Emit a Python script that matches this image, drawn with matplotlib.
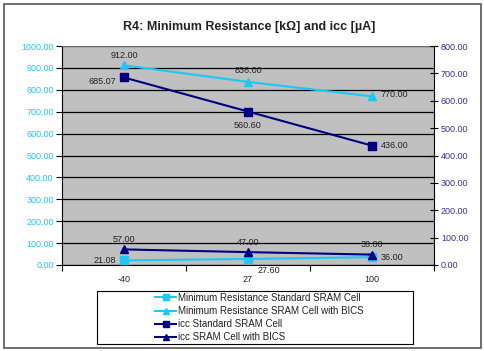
import matplotlib
matplotlib.use("Agg")
import matplotlib.pyplot as plt
from matplotlib.patches import Rectangle

# chart data
temps = ["-40", "27", "100"]
res_standard = [21.08, 27.60, 36.00]
res_bics = [912.00, 836.00, 770.00]
icc_standard = [685.07, 560.60, 436.00]
icc_bics = [57.00, 47.00, 38.00]
left_ticks = [0, 100, 200, 300, 400, 500, 600, 700, 800, 900, 1000]
right_ticks = [0, 100, 200, 300, 400, 500, 600, 700, 800]

LIGHT = "#1EC8F5"
NAVY = "#000080"
TXT = "#222222"

plt.rcParams["font.family"] = ["Liberation Sans", "DejaVu Sans"]

fig = plt.figure(figsize=(4.84, 3.51), dpi=100)
fig.patch.set_facecolor("white")
# outer chart frame
fig.patches.append(Rectangle((4 / 484, 3 / 351), 477 / 484, 344 / 351,
                             transform=fig.transFigure, fill=False,
                             edgecolor="#555555", lw=1.2))
# legend frame
fig.patches.append(Rectangle((97 / 484, 1 - 344 / 351), 316 / 484, 53 / 351,
                             transform=fig.transFigure, fill=False,
                             edgecolor="black", lw=0.8))

ax = fig.add_axes([62 / 484, 86 / 351, 372 / 484, 219 / 351])
ax.set_facecolor("#C0C0C0")
ax2 = ax.twinx()

x = range(len(temps))
l1, = ax.plot(x, res_standard, color=LIGHT, marker="s", ms=5.5, lw=1.5,
              label="Minimum Resistance Standard SRAM Cell", zorder=3)
l2, = ax.plot(x, res_bics, color=LIGHT, marker="^", ms=6, lw=1.5,
              label="Minimum Resistance SRAM Cell with BICS", zorder=3)
l3, = ax2.plot(x, icc_standard, color=NAVY, marker="s", ms=5.5, lw=1.5,
               label="icc Standard SRAM Cell", zorder=3)
l4, = ax2.plot(x, icc_bics, color=NAVY, marker="^", ms=6, lw=1.5,
               label="icc SRAM Cell with BICS", zorder=3)

ax.set_xlim(-0.5, 2.5)
ax.set_ylim(0, 1000)
ax2.set_ylim(0, 800)
ax.set_yticks(left_ticks)
ax.set_yticklabels([f"{v:.2f}" for v in left_ticks])
ax2.set_yticks(right_ticks)
ax2.set_yticklabels([f"{v:.2f}" for v in right_ticks])
ax.set_xticks(list(x))
ax.set_xticklabels(temps)
ax.set_xticks([-0.5, 0.5, 1.5, 2.5], minor=True)
ax.tick_params(axis="x", which="major", length=0, pad=7, labelsize=6.5, colors=TXT)
ax.tick_params(axis="x", which="minor", length=4, direction="out", width=0.8)
ax.tick_params(axis="y", length=4, direction="out", width=0.8, labelsize=6.5,
               labelcolor=LIGHT, pad=2)
ax2.tick_params(axis="y", length=6, direction="inout", width=0.8, labelsize=6.5,
                labelcolor="#333399", pad=2)

ax.grid(axis="y", color="black", lw=0.9)
ax.set_axisbelow(True)
ax2.spines["top"].set_visible(False)
ax2.spines["left"].set_visible(False)
ax2.spines["bottom"].set_visible(False)
ax2.spines["right"].set_color("black")
ax.spines["right"].set_visible(False)
ax.spines["top"].set_color("#808080")
ax.spines["top"].set_linewidth(0.6)

# data labels
def lab(a, xi, yi, txt, dx, dy, ha):
    a.annotate(txt, (xi, yi), xytext=(dx, dy), textcoords="offset points",
               ha=ha, va="center", fontsize=6.5, color=TXT, zorder=5)

lab(ax, 0, res_bics[0], "912.00", 0, 7, "center")
lab(ax, 1, res_bics[1], "836.00", 0, 8, "center")
lab(ax, 2, res_bics[2], "770.00", 6, 1, "left")
lab(ax2, 0, icc_standard[0], "685.07", -6, -3, "right")
lab(ax2, 1, icc_standard[1], "560.60", 0, -10, "center")
lab(ax2, 2, icc_standard[2], "436.00", 6, 0, "left")
lab(ax2, 0, icc_bics[0], "57.00", 0, 7, "center")
lab(ax2, 1, icc_bics[1], "47.00", 0, 7, "center")
lab(ax2, 2, icc_bics[2], "38.00", 0, 7, "center")
lab(ax, 0, res_standard[0], "21.08", -6, 0, "right")
lab(ax, 1, res_standard[1], "27.60", 15, -8, "center")
lab(ax, 2, res_standard[2], "36.00", 6, 0, "left")

fig.text(249 / 484, 1 - 27 / 351, "R4: Minimum Resistance [k\u03a9] and icc [\u00b5A]",
         ha="center", va="center", fontsize=9, fontweight="bold", color=TXT)

leg = fig.legend(handles=[l1, l2, l3, l4], loc="upper left",
                 bbox_to_anchor=(148 / 484, 1 - 286 / 351),
                 fontsize=7, frameon=False,
                 handlelength=2.2, handletextpad=0.15, labelspacing=0.32,
                 borderpad=0.2, markerscale=0.75)
for t in leg.get_texts():
    t.set_color(TXT)

fig.savefig("out.png", dpi=100)
